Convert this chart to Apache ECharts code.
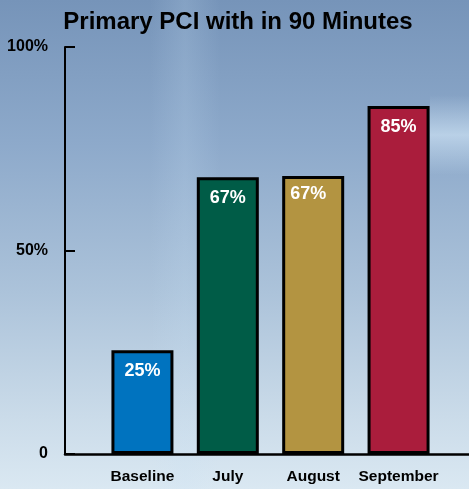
<!DOCTYPE html>
<html>
<head>
<meta charset="utf-8">
<script src="https://cdn.jsdelivr.net/npm/echarts@6/dist/echarts.min.js"></script>
<style>
html,body{margin:0;padding:0;}
#chart{width:469px;height:489px;}
</style>
</head>
<body>
<div id="chart"></div>
<script>
// Data
var categories = ['Baseline', 'July', 'August', 'September'];
var barHeights = [25.5, 68, 68.3, 85.5];
var barLabels = ['25%', '67%', '67%', '85%'];
var yTicks = [0, 50, 100];
var yTickLabels = ['0', '50%', '100%'];

var barColors = ['#0073bf', '#005c47', '#b39441', '#aa1d3c'];
var FONT = 'Liberation Sans, Arial, Helvetica, sans-serif';

var chart = echarts.init(document.getElementById('chart'));

var seriesData = barHeights.map(function (v, i) {
  var item = {
    value: [i, v],
    itemStyle: { color: barColors[i] }
  };
  if (i === 2) { item.label = { offset: [-5, -3] }; }
  return item;
});

chart.setOption({
  backgroundColor: {
    type: 'linear', x: 0, y: 0, x2: 0, y2: 1,
    colorStops: [
      { offset: 0, color: '#7694b9' },
      { offset: 0.3, color: '#8eaacb' },
      { offset: 0.6, color: '#acc3da' },
      { offset: 0.85, color: '#cadbe9' },
      { offset: 1, color: '#dae8f2' }
    ]
  },
  graphic: [
    {
      type: 'rect', left: 150, top: 0, z: -1, silent: true,
      shape: { width: 70, height: 489 },
      style: {
        fill: {
          type: 'linear', x: 0, y: 0, x2: 1, y2: 0,
          colorStops: [
            { offset: 0, color: 'rgba(200,225,245,0)' },
            { offset: 0.5, color: 'rgba(200,225,245,0.18)' },
            { offset: 1, color: 'rgba(200,225,245,0)' }
          ]
        }
      }
    },
    {
      type: 'rect', left: 430, top: 95, z: -1, silent: true,
      shape: { width: 39, height: 80 },
      style: {
        fill: {
          type: 'linear', x: 0, y: 0, x2: 0, y2: 1,
          colorStops: [
            { offset: 0, color: 'rgba(215,235,250,0)' },
            { offset: 0.5, color: 'rgba(215,235,250,0.6)' },
            { offset: 1, color: 'rgba(215,235,250,0)' }
          ]
        }
      }
    }
  ],
  title: {
    text: 'Primary PCI with in 90 Minutes',
    left: 233, top: 5, textAlign: 'center',
    textStyle: { fontFamily: FONT, fontWeight: 'bold', fontSize: 24, color: '#000' }
  },
  grid: { left: 65, right: 0, top: 47, bottom: 35 },
  xAxis: {
    type: 'value',
    min: -0.907,
    max: 3.825,
    splitLine: { show: false },
    axisTick: { show: false },
    axisLine: { show: true, onZero: false, lineStyle: { color: '#000', width: 2.5 } },
    axisLabel: {
      customValues: [0, 1, 2, 3],
      formatter: function (v) { return categories[Math.round(v)]; },
      margin: 15,
      fontFamily: FONT, fontWeight: 'bold', fontSize: 15.5, color: '#000'
    }
  },
  yAxis: {
    type: 'value',
    min: 0, max: 100, interval: 50,
    splitLine: { show: false },
    axisLine: { show: true, onZero: false, lineStyle: { color: '#000', width: 2 } },
    axisTick: { show: true, inside: true, length: 10, lineStyle: { color: '#000', width: 2 } },
    axisLabel: {
      margin: 17,
      formatter: function (v) { return yTickLabels[yTicks.indexOf(v)]; },
      fontFamily: FONT, fontWeight: 'bold', fontSize: 16, color: '#000'
    }
  },
  series: [{
    type: 'bar',
    barWidth: 62,
    data: seriesData,
    itemStyle: { borderColor: '#000', borderWidth: 3 },
    label: {
      show: true,
      position: 'insideTop',
      distance: 12,
      formatter: function (p) { return barLabels[p.dataIndex]; },
      fontFamily: FONT, fontWeight: 'bold', fontSize: 18, color: '#fff'
    }
  }]
});
</script>
</body>
</html>
